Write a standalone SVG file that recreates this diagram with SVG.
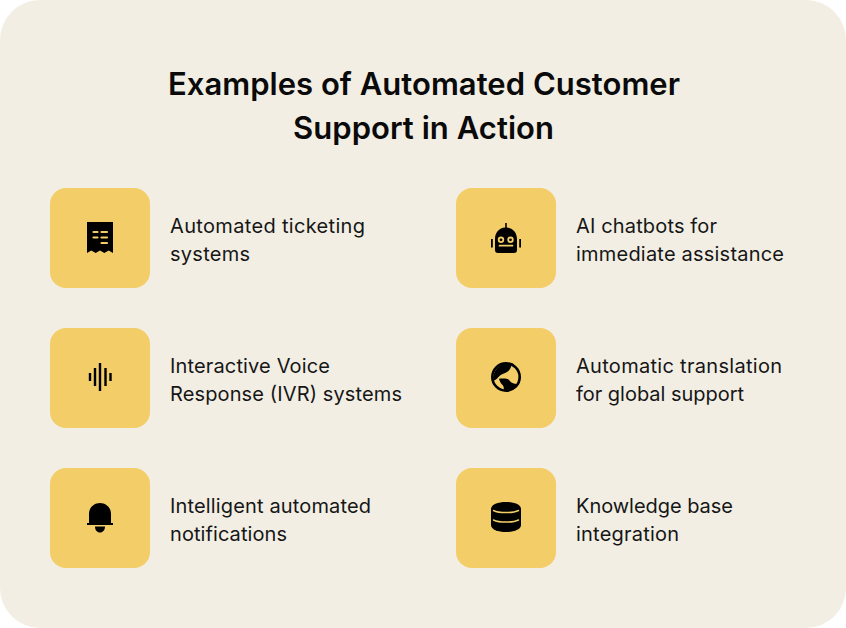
<svg xmlns="http://www.w3.org/2000/svg" width="846" height="628" viewBox="0 0 846 628">
<style>
.title{font-family:"Inter","Liberation Sans",sans-serif;font-size:31px;font-weight:600;fill:#0a0a0a}
.label{font-family:"Inter","Liberation Sans",sans-serif;font-size:20px;font-weight:400;fill:#161616}
.tile{fill:#f3cd68}
.ink{fill:#000}
.cut{fill:none;stroke:#f3cd68;stroke-linecap:round}
</style>
<rect width="846" height="628" fill="#fff"/>
<rect width="846" height="628" rx="40" fill="#f2eee4"/>
<text class="title" x="168" y="95" textLength="512">Examples of Automated Customer</text>
<text class="title" x="293" y="139" textLength="261">Support in Action</text>
<g id="node-ticketing">
<rect class="tile" x="50" y="188" width="100" height="100" rx="16"/>
<path class="ink" d="M87 222H113V253L108.700 250.500 104.300 253 100 250.500 95.700 253 91.300 250.500 87 253Z"/>
<path class="cut" stroke-width="2.200" d="M93.500 232H97.500M101.500 232H107M93.500 237.500H97.500M101.500 237.500H107M101.500 243H107" stroke-linecap="butt"/>
<text class="label" x="170" y="233" textLength="195">Automated ticketing</text>
<text class="label" x="170" y="261" textLength="80">systems</text>
</g>
<g id="node-chatbots">
<rect class="tile" x="456" y="188" width="100" height="100" rx="16"/>
<path class="ink" d="M505.200 223H506.800V227.500C513 228 517 232.500 517 239V250C517 252 516 253 514 253H498C496 253 495 252 495 250V239C495 232.500 499 228 505.200 227.500Z"/>
<rect class="ink" x="491" y="239" width="1.800" height="8.500"/>
<rect class="ink" x="519.200" y="239" width="1.800" height="8.500"/>
<circle cx="501" cy="239.800" r="2.300" fill="none" stroke="#f3cd68" stroke-width="1.800"/>
<circle cx="510.500" cy="239.800" r="2.300" fill="none" stroke="#f3cd68" stroke-width="1.800"/>
<path class="cut" stroke-width="1.700" d="M499.500 245.700H512.500"/>
<text class="label" x="576" y="233" textLength="141">AI chatbots for</text>
<text class="label" x="576" y="261" textLength="208">immediate assistance</text>
</g>
<g id="node-ivr">
<rect class="tile" x="50" y="328" width="100" height="100" rx="16"/>
<rect class="ink" x="88.800" y="373" width="2.400" height="8"/>
<rect class="ink" x="93.800" y="368" width="2.400" height="18"/>
<rect class="ink" x="98.800" y="363" width="2.400" height="28"/>
<rect class="ink" x="104.300" y="368" width="2.400" height="18"/>
<rect class="ink" x="109.300" y="373" width="2.400" height="8"/>
<text class="label" x="170" y="373" textLength="160">Interactive Voice</text>
<text class="label" x="170" y="401" textLength="232">Response (IVR) systems</text>
</g>
<g id="node-translation">
<rect class="tile" x="456" y="328" width="100" height="100" rx="16"/>
<circle cx="506" cy="377" r="13.700" fill="#f3cd68" stroke="#000" stroke-width="2.600"/>
<path class="ink" d="M493 381C492.500 372 498 364 507 363.500L511.500 365C511 368 509.500 370.500 507 372 504.500 373.500 502 374 500 375.500 498 377.500 496 380 493 381Z"/>
<path class="ink" d="M499 378.800C502 378.500 505 378.500 507.500 379 509 379.500 510 381.500 511.500 382.500 513.500 383.800 516 383.800 518.500 384.500 516 388.500 511.500 391 506.500 391L503.500 390.500C504 388.500 504 386.500 502.500 385 500.500 383 499.500 381 499 378.800Z"/>
<text class="label" x="576" y="373" textLength="206">Automatic translation</text>
<text class="label" x="576" y="401" textLength="168">for global support</text>
</g>
<g id="node-notifications">
<rect class="tile" x="50" y="468" width="100" height="100" rx="16"/>
<path class="ink" d="M89 523V514C89 507.500 94 503 100 503S111 507.500 111 514V523ZM87 523H113V525H87ZM95 526.500H105C105 530 103 532.500 100 532.500S95 530 95 526.500Z"/>
<text class="label" x="170" y="513" textLength="201">Intelligent automated</text>
<text class="label" x="170" y="541" textLength="117">notifications</text>
</g>
<g id="node-knowledge">
<rect class="tile" x="456" y="468" width="100" height="100" rx="16"/>
<path class="ink" d="M491 509C491 504.500 498 502 506 502S521 504.500 521 509V525C521 529.500 514 532 506 532S491 529.500 491 525Z"/>
<path class="cut" stroke-width="1.500" d="M493.500 510.500C499 513.300 513 513.300 518.500 510.500M493.500 520C499 522.800 513 522.800 518.500 520"/>
<text class="label" x="576" y="513" textLength="157">Knowledge base</text>
<text class="label" x="576" y="541" textLength="103">integration</text>
</g>
<g id="connectors"/>
</svg>
